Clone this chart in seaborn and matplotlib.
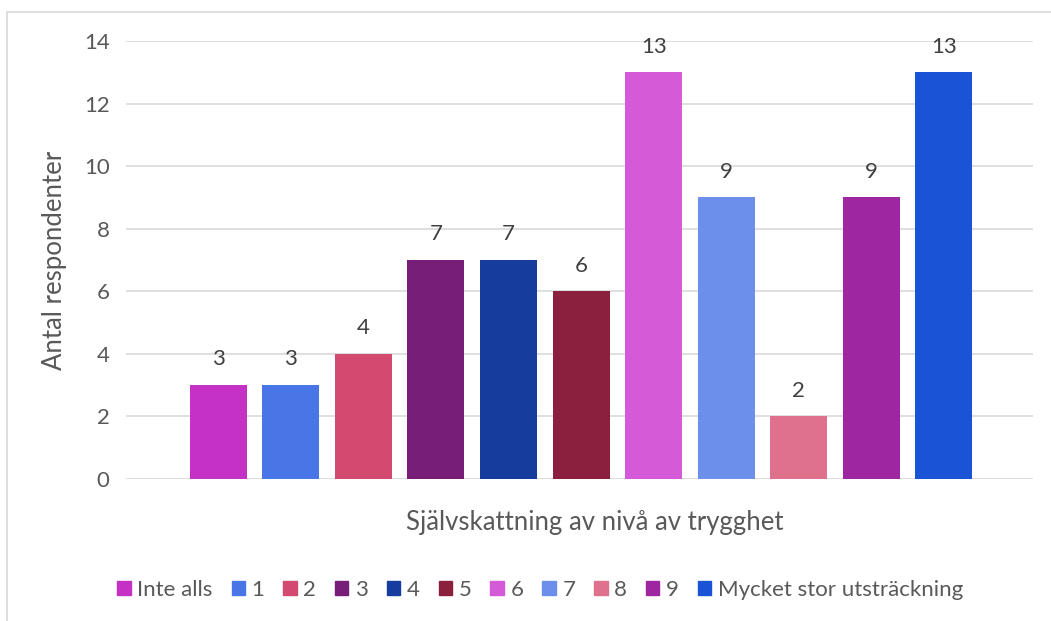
import numpy as np
import pandas as pd
import matplotlib
matplotlib.use('Agg')
import matplotlib.pyplot as plt
from matplotlib.lines import Line2D
import seaborn as sns

# Data
categories = ['Inte alls', '1', '2', '3', '4', '5', '6', '7', '8', '9',
              'Mycket stor utsträckning']
counts = [3, 3, 4, 7, 7, 6, 13, 9, 2, 9, 13]
colors = ['#C531C5', '#4876E6', '#D44970', '#761E78', '#163C9E', '#8B1F3E',
          '#D55AD8', '#6B8FEB', '#E0718C', '#9E26A0', '#1A53D6']

sns.set_theme(style='white')
plt.rcParams['font.family'] = ['Lato', 'DejaVu Sans']
text_color = '#595959'

df = pd.DataFrame({'pos': np.arange(len(categories)), 'kategori': categories,
                   'antal': counts})

fig = plt.figure(figsize=(10.51, 6.21), dpi=100)
ax = fig.add_axes([0.12, 0.2287, 0.863, 0.7053])

sns.barplot(data=df, x='pos', y='antal', hue='kategori', hue_order=categories,
            palette=colors, dodge=False, width=0.786, native_scale=True,
            saturation=1, linewidth=0, legend=False, ax=ax)

for i, v in enumerate(counts):
    ax.text(i, v + 0.5, str(v), ha='center', va='bottom', fontsize=16,
            color='#404040')

ax.set_ylim(0, 14)
ax.set_xlim(-1.27, 11.23)
ax.set_yticks(range(0, 15, 2))
ax.set_xticks([])
ax.yaxis.grid(True, color='#D9D9D9', linewidth=1.2)
ax.set_axisbelow(True)
for s in ax.spines.values():
    s.set_visible(False)
ax.tick_params(axis='y', length=0, pad=12, labelsize=16, labelcolor=text_color)

ax.set_ylabel('Antal respondenter', fontsize=18.5, color=text_color, labelpad=12)
ax.set_xlabel('Självskattning av nivå av trygghet', fontsize=18.5,
              color=text_color)
ax.xaxis.set_label_coords(0.517, -0.07, transform=ax.transAxes)
ax.xaxis.label.set_va('top')

handles = [plt.Rectangle((0, 0), 1, 1, color=c) for c in colors]
fig.legend(handles, categories, loc='center', bbox_to_anchor=(0.514, 0.05),
           ncol=len(categories), frameon=False, fontsize=16,
           labelcolor=text_color, handlelength=0.6, handleheight=0.6,
           handletextpad=0.3, columnspacing=0.85)

# partial chart border (top and left)
fig.add_artist(Line2D([7 / 1051, 1], [1 - 12 / 621, 1 - 12 / 621],
                      transform=fig.transFigure, color='#D9D9D9', lw=1.2))
fig.add_artist(Line2D([7 / 1051, 7 / 1051], [0, 1 - 12 / 621],
                      transform=fig.transFigure, color='#D9D9D9', lw=1.2))

fig.savefig('out.png', dpi=100, facecolor='white')
